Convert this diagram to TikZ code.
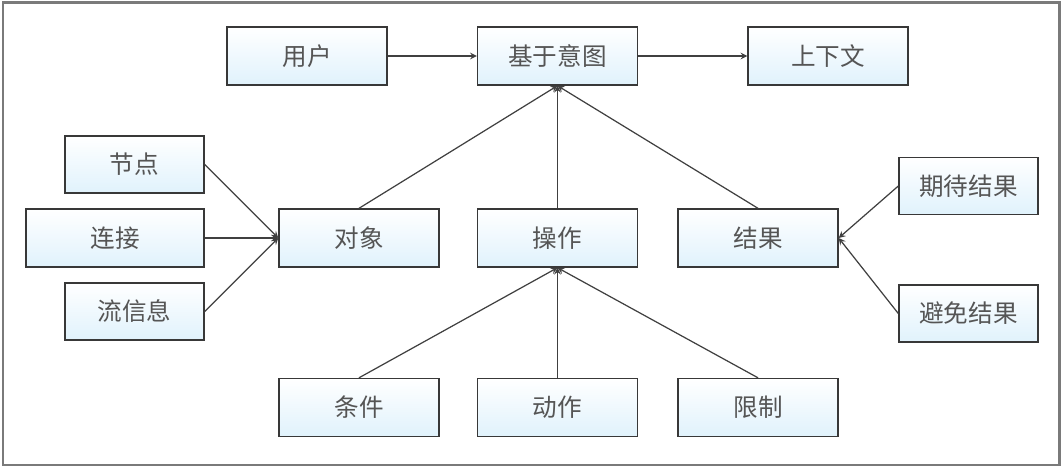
\documentclass[tikz,border=0pt]{standalone}
\usepackage{fontspec}
\setmainfont{Noto Sans CJK SC}
\usetikzlibrary{arrows,positioning}

\definecolor{boxblue}{HTML}{E0F2FC}
\definecolor{boxline}{HTML}{383838}
\definecolor{boxtext}{HTML}{555555}
\definecolor{arrowline}{HTML}{404040}
\definecolor{frameline}{HTML}{7A7A7A}

\begin{document}
\begin{tikzpicture}[
  x=0.02cm, y=-0.02cm,
  box/.style={
    draw=boxline, rectangle, line width=0.8pt, minimum width=3.2cm, minimum height=1.16cm,
    top color=white, bottom color=boxblue, text=boxtext,
    font=\fontsize{14}{16}\selectfont
  },
  sidebox/.style={box, minimum width=2.78cm, minimum height=1.14cm},
  arrow/.style={->, >=stealth, draw=arrowline, line width=0.7pt}
]

\useasboundingbox (0,0) rectangle (1063,468);
\draw[frameline, line width=1.2pt] (3,2.5) rectangle (1059.5,465);

% Top row
\node[box] (user) at (307,56) {用户};
\node[box] (intent) at (557.5,56) {基于意图};
\node[box] (context) at (828,56) {上下文};

% Middle row
\node[box] (object) at (359,238) {对象};
\node[box] (operation) at (557.5,238) {操作};
\node[box] (result) at (758,238) {结果};

% Left column
\node[sidebox] (node) at (134.5,164.5) {节点};
\node[box, minimum width=3.56cm] (link) at (115,238) {连接};
\node[sidebox] (flow) at (134.5,311.5) {流信息};

% Right column
\node[sidebox] (expected) at (968.5,186) {期待结果};
\node[sidebox] (avoided) at (968.5,313.5) {避免结果};

% Bottom row
\node[box] (condition) at (359,407.5) {条件};
\node[box] (action) at (557.5,407.5) {动作};
\node[box] (limit) at (758,407.5) {限制};

% Arrows
\draw[arrow] (user.east) -- (intent.west);
\draw[arrow] (intent.east) -- (context.west);
\draw[arrow] (object.north) -- (intent.south);
\draw[arrow] (operation.north) -- (intent.south);
\draw[arrow] (result.north) -- (intent.south);
\draw[arrow] (node.east) -- (object.west);
\draw[arrow] (link.east) -- (object.west);
\draw[arrow] (flow.east) -- (object.west);
\draw[arrow] (expected.west) -- (result.east);
\draw[arrow] (avoided.west) -- (result.east);
\draw[arrow] (condition.north) -- (operation.south);
\draw[arrow] (action.north) -- (operation.south);
\draw[arrow] (limit.north) -- (operation.south);

\end{tikzpicture}
\end{document}
